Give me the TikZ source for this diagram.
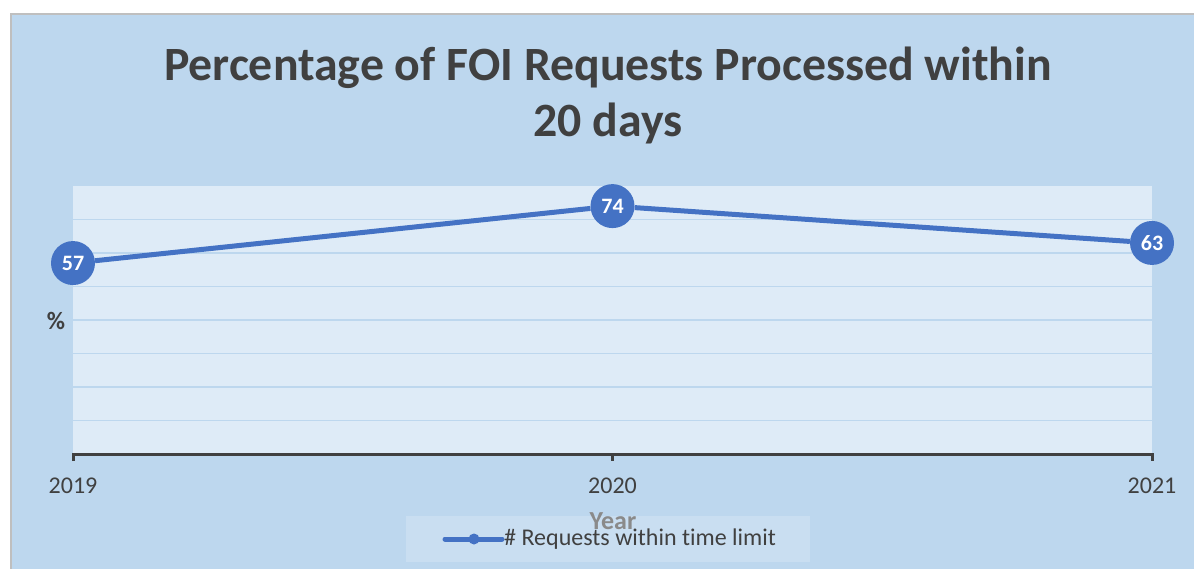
\documentclass[tikz,border=0pt]{standalone}
\usepackage{fontspec}
\setmainfont{Carlito}[Ligatures=NoCommon]
\definecolor{chartbg}{HTML}{BDD7EE}
\definecolor{plotbg}{HTML}{DEEBF7}
\definecolor{gridblue}{HTML}{BDD7EE}
\definecolor{serblue}{HTML}{4472C4}
\definecolor{txtgray}{HTML}{404040}
\definecolor{framegray}{HTML}{BFBFBF}
\definecolor{yeargray}{HTML}{8A8A8A}
\definecolor{legendbg}{HTML}{D2E3F3}
\begin{document}
\begin{tikzpicture}[x=1pt,y=-1pt,
  datapt/.style={circle,fill=serblue,inner sep=0pt,minimum size=44pt,text=white,
    font=\fontsize{22}{22}\selectfont\bfseries},
  yearlbl/.style={anchor=base,text=txtgray,font=\fontsize{24}{24}\selectfont}]
  \useasboundingbox (0,0) rectangle (1194,569);
  \fill[chartbg] (10.5,14.5) rectangle (1194,569);
  \draw[framegray,line width=2pt] (10.5,569) -- (10.5,14.5) -- (1194,14.5);
  \node[anchor=base,text=txtgray,font=\fontsize{47.8}{48}\selectfont\bfseries] (title1) at (608,81)
    {Percentage of FOI Requests Processed within};
  \node[anchor=base,text=txtgray,font=\fontsize{47.8}{48}\selectfont\bfseries] (title2) at (608,137)
    {20 days};
  \fill[plotbg] (73,186) rectangle (1152,454);
  \foreach \y in {219.5,253,286.5,320,353.5,387,420.5}
    \draw[gridblue,line width=1.5pt] (73,\y) -- (1152,\y);
  \draw[txtgray,line width=3pt] (73,461) -- (73,454) -- (1152,454) -- (1152,461);
  \draw[txtgray,line width=3pt] (612.5,454) -- (612.5,461);
  \node[text=txtgray,font=\fontsize{25}{25}\selectfont\bfseries] (ylabel) at (56,321) {\%};
  \node[datapt] (p19) at (73,263.05) {57};
  \node[datapt] (p20) at (612.5,206.1) {74};
  \node[datapt] (p21) at (1152,242.95) {63};
  \draw[serblue,line width=5pt] (p19) -- (p20) -- (p21);
  \node[yearlbl] (x19) at (73,493) {2019};
  \node[yearlbl] (x20) at (612.5,493) {2020};
  \node[yearlbl] (x21) at (1152,493) {2021};
  \node[fill=legendbg,fill opacity=.6,minimum width=404pt,minimum height=46pt,inner sep=0pt] (legend) at (608,539) {};
  \node[anchor=base,text=yeargray,font=\fontsize{26}{26}\selectfont\bfseries] (xlabel) at (613,529) {Year};
  \coordinate (keyA) at (445,539);
  \coordinate (keyB) at (502,539);
  \draw[serblue,line width=5pt,line cap=round] (keyA) -- (keyB);
  \fill[serblue] (474,539) circle (5.5pt);
  \node[anchor=west,inner sep=0pt,text=txtgray,font=\fontsize{24}{24}\selectfont] (keytext) at (504,539.5)
    {\# Requests within time limit};
\end{tikzpicture}
\end{document}
